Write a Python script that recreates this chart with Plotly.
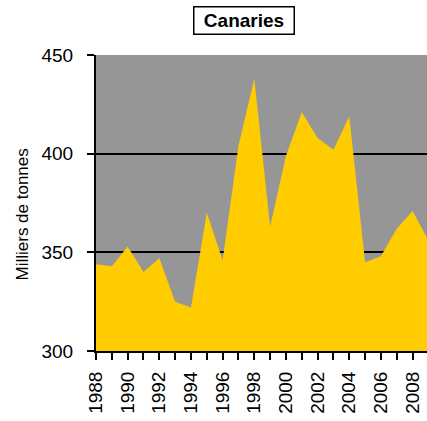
import plotly.graph_objects as go

years = list(range(1988, 2010))
tonnes = [344, 343, 353, 340, 347, 325, 322, 370, 346, 404, 438, 363,
          399, 421, 408, 402, 419, 345, 348, 362, 371, 356]

y_ticks = [300, 350, 400, 450]

fig = go.Figure()
fig.add_trace(go.Scatter(
    x=years, y=tonnes,
    mode="lines", line=dict(width=0, color="#FFCC00"),
    fill="tozeroy", fillcolor="#FFCC00",
    hoverinfo="skip",
))

fig.update_layout(
    width=427, height=421,
    margin=dict(l=96, r=0, t=55, b=70),
    paper_bgcolor="white",
    plot_bgcolor="#969696",
    showlegend=False,
    font=dict(family="Liberation Sans, Arial, sans-serif", color="black"),
)
fig.add_annotation(
    text="<b>Canaries</b>", xref="paper", yref="paper",
    x=(244 - 96) / 331, y=1.0, yanchor="bottom", yshift=20,
    width=97, height=24,
    showarrow=False, font=dict(size=19, color="black"),
    bordercolor="black", borderwidth=1.5, borderpad=1, bgcolor="white",
)
# y title placed by hand: it sits a bit below the plot centre in the original
fig.add_annotation(
    text="Milliers de tonnes", xref="paper", yref="paper",
    x=0, xshift=-86, y=0.5, yshift=-12, textangle=-90,
    showarrow=False, font=dict(size=17, color="black"),
)

fig.update_xaxes(
    range=[1988, 1988 + 331 / 15.83],
    tickmode="linear", tick0=1988, dtick=2,
    ticks="outside", ticklen=7, tickwidth=2, tickcolor="black",
    tickangle=-90, tickfont=dict(size=19), ticklabelstandoff=4,
    minor=dict(dtick=1, ticks="outside", ticklen=7, tickwidth=2, tickcolor="black"),
    showgrid=False, zeroline=False,
    showline=True, linecolor="black", linewidth=2,
)
fig.update_yaxes(
    range=[300, 450], tickvals=y_ticks,
    ticks="outside", ticklen=7, tickwidth=2, tickcolor="black",
    tickfont=dict(size=19), ticklabelstandoff=10,
    showgrid=True, gridcolor="black", gridwidth=2,
    zeroline=False, showline=True, linecolor="black", linewidth=2,
)

fig.write_html("out.html", config={"displayModeBar": False},
               post_script="document.body.style.margin = '0';")
